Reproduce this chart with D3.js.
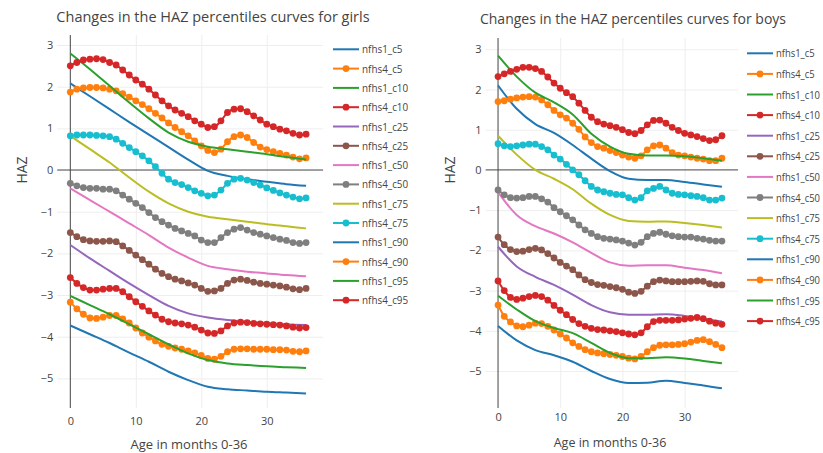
<!DOCTYPE html>
<html>
<head>
<meta charset="utf-8">
<script src="https://cdn.jsdelivr.net/npm/d3@7"></script>
<style>
    body { margin: 0; background: #fff; }
    svg { font-family: "Open Sans", sans-serif; }
    text { fill: #444; }
</style>
</head>
<body>
<div id="chart"></div>
<script>
// months for the nfhs4 series (one marker per month) and the nfhs1 lines (read every 3 months)
var months = [0, 1, 2, 3, 4, 5, 6, 7, 8, 9, 10, 11, 12, 13, 14, 15, 16, 17, 18, 19, 20,
    21, 22, 23, 24, 25, 26, 27, 28, 29, 30, 31, 32, 33, 34, 35, 36];
var months3 = [0, 3, 6, 9, 12, 15, 18, 21, 24, 27, 30, 33, 36];

var seriesNames = ["nfhs1_c5", "nfhs4_c5", "nfhs1_c10", "nfhs4_c10", "nfhs1_c25", "nfhs4_c25",
    "nfhs1_c50", "nfhs4_c50", "nfhs1_c75", "nfhs4_c75", "nfhs1_c90", "nfhs4_c90", "nfhs1_c95", "nfhs4_c95"];
var colors = ["#1f77b4", "#ff7f0e", "#2ca02c", "#d62728", "#9467bd", "#8c564b", "#e377c2",
    "#7f7f7f", "#bcbd22", "#17becf", "#1f77b4", "#ff7f0e", "#2ca02c", "#d62728"];

var xTicks = [0, 10, 20, 30];
var yTicks = [3, 2, 1, 0, -1, -2, -3, -4, -5];

// girls
var girls_nfhs1_c5 = [2.08, 1.77, 1.46, 1.15, 0.85, 0.55, 0.25, -0.02, -0.14, -0.22, -0.28, -0.34, -0.38];
var girls_nfhs4_c5 = [1.87, 1.94, 1.97, 1.98, 1.98, 1.97, 1.94, 1.90, 1.83, 1.75, 1.66, 1.57, 1.47, 1.36, 1.25, 1.13, 1.02, 0.92, 0.82, 0.70,
    0.58, 0.47, 0.42, 0.50, 0.68, 0.80, 0.84, 0.78, 0.66, 0.55, 0.49, 0.44, 0.40, 0.36, 0.31, 0.27, 0.29];
var girls_nfhs1_c10 = [2.80, 2.42, 2.02, 1.62, 1.24, 0.90, 0.68, 0.56, 0.50, 0.44, 0.38, 0.31, 0.25];
var girls_nfhs4_c10 = [2.50, 2.58, 2.64, 2.66, 2.67, 2.65, 2.58, 2.52, 2.40, 2.28, 2.16, 2.06, 1.94, 1.80, 1.66, 1.54, 1.44, 1.36, 1.28, 1.18,
    1.10, 1.02, 1.04, 1.18, 1.38, 1.46, 1.47, 1.40, 1.30, 1.20, 1.10, 1.04, 0.98, 0.94, 0.88, 0.84, 0.86];
var girls_nfhs1_c25 = [-1.80, -2.12, -2.42, -2.72, -3.00, -3.26, -3.44, -3.54, -3.60, -3.64, -3.67, -3.70, -3.72];
var girls_nfhs4_c25 = [-1.50, -1.60, -1.67, -1.70, -1.71, -1.71, -1.70, -1.72, -1.82, -1.93, -2.04, -2.15, -2.26, -2.38, -2.48, -2.56, -2.62, -2.66, -2.71, -2.76,
    -2.84, -2.91, -2.90, -2.84, -2.72, -2.64, -2.62, -2.65, -2.69, -2.72, -2.74, -2.76, -2.78, -2.81, -2.85, -2.87, -2.84];
var girls_nfhs1_c50 = [-0.44, -0.72, -1.00, -1.28, -1.56, -1.86, -2.10, -2.30, -2.38, -2.44, -2.48, -2.52, -2.55];
var girls_nfhs4_c50 = [-0.32, -0.38, -0.42, -0.44, -0.44, -0.46, -0.46, -0.50, -0.60, -0.70, -0.80, -0.90, -1.02, -1.14, -1.24, -1.32, -1.40, -1.46, -1.52, -1.58,
    -1.68, -1.74, -1.74, -1.62, -1.50, -1.42, -1.38, -1.44, -1.50, -1.54, -1.58, -1.62, -1.66, -1.69, -1.74, -1.76, -1.74];
var girls_nfhs1_c75 = [0.82, 0.50, 0.18, -0.18, -0.52, -0.80, -1.00, -1.12, -1.18, -1.24, -1.30, -1.35, -1.40];
var girls_nfhs4_c75 = [0.82, 0.84, 0.84, 0.84, 0.83, 0.82, 0.80, 0.74, 0.64, 0.54, 0.44, 0.34, 0.22, 0.08, -0.08, -0.22, -0.30, -0.35, -0.42, -0.50,
    -0.56, -0.62, -0.60, -0.48, -0.32, -0.22, -0.20, -0.24, -0.30, -0.36, -0.43, -0.49, -0.55, -0.60, -0.65, -0.69, -0.67];
var girls_nfhs1_c90 = [-3.73, -3.94, -4.15, -4.38, -4.60, -4.84, -5.04, -5.20, -5.26, -5.29, -5.32, -5.34, -5.36];
var girls_nfhs4_c90 = [-3.17, -3.33, -3.46, -3.55, -3.56, -3.53, -3.49, -3.49, -3.57, -3.67, -3.79, -3.91, -4.01, -4.10, -4.18, -4.23, -4.27, -4.30, -4.34, -4.39,
    -4.45, -4.52, -4.54, -4.47, -4.36, -4.30, -4.29, -4.29, -4.30, -4.30, -4.30, -4.31, -4.31, -4.32, -4.35, -4.36, -4.34];
var girls_nfhs1_c95 = [-3.02, -3.24, -3.46, -3.70, -3.94, -4.18, -4.40, -4.56, -4.64, -4.68, -4.71, -4.73, -4.75];
var girls_nfhs4_c95 = [-2.58, -2.72, -2.82, -2.88, -2.88, -2.86, -2.84, -2.84, -2.92, -3.04, -3.16, -3.27, -3.38, -3.48, -3.58, -3.64, -3.67, -3.69, -3.72, -3.77,
    -3.84, -3.91, -3.92, -3.86, -3.74, -3.67, -3.65, -3.66, -3.68, -3.69, -3.70, -3.71, -3.72, -3.74, -3.77, -3.79, -3.78];

// boys
var boys_nfhs1_c5 = [2.10, 1.52, 1.14, 0.92, 0.62, 0.28, -0.03, -0.22, -0.25, -0.25, -0.30, -0.36, -0.42];
var boys_nfhs4_c5 = [1.70, 1.72, 1.76, 1.79, 1.81, 1.82, 1.81, 1.74, 1.62, 1.48, 1.37, 1.29, 1.16, 1.01, 0.82, 0.68, 0.58, 0.54, 0.48, 0.43,
    0.37, 0.32, 0.29, 0.35, 0.50, 0.60, 0.62, 0.54, 0.43, 0.37, 0.35, 0.32, 0.29, 0.27, 0.23, 0.23, 0.29];
var boys_nfhs1_c10 = [2.84, 2.32, 1.92, 1.68, 1.38, 0.90, 0.58, 0.40, 0.36, 0.36, 0.34, 0.29, 0.23];
var boys_nfhs4_c10 = [2.32, 2.39, 2.45, 2.50, 2.55, 2.55, 2.52, 2.45, 2.31, 2.16, 2.03, 1.92, 1.82, 1.66, 1.48, 1.31, 1.20, 1.14, 1.10, 1.06,
    1.00, 0.93, 0.90, 0.98, 1.12, 1.23, 1.24, 1.16, 1.06, 0.98, 0.91, 0.87, 0.83, 0.78, 0.73, 0.75, 0.85];
var boys_nfhs1_c25 = [-1.91, -2.40, -2.66, -2.86, -3.10, -3.36, -3.54, -3.60, -3.60, -3.59, -3.63, -3.70, -3.77];
var boys_nfhs4_c25 = [-1.67, -1.86, -1.98, -2.03, -2.02, -1.98, -1.95, -1.99, -2.08, -2.19, -2.30, -2.39, -2.48, -2.61, -2.73, -2.80, -2.85, -2.87, -2.90, -2.93,
    -2.97, -3.04, -3.07, -3.02, -2.89, -2.78, -2.74, -2.76, -2.78, -2.78, -2.78, -2.77, -2.76, -2.77, -2.83, -2.86, -2.86];
var boys_nfhs1_c50 = [-0.55, -1.12, -1.40, -1.58, -1.80, -2.06, -2.30, -2.38, -2.37, -2.37, -2.43, -2.49, -2.57];
var boys_nfhs4_c50 = [-0.50, -0.62, -0.69, -0.70, -0.69, -0.66, -0.66, -0.72, -0.80, -0.94, -1.04, -1.14, -1.24, -1.37, -1.49, -1.58, -1.66, -1.70, -1.72, -1.74,
    -1.77, -1.82, -1.87, -1.80, -1.66, -1.58, -1.55, -1.60, -1.64, -1.66, -1.67, -1.67, -1.70, -1.72, -1.75, -1.77, -1.77];
var boys_nfhs1_c75 = [0.85, 0.38, 0.00, -0.22, -0.48, -0.84, -1.12, -1.27, -1.29, -1.28, -1.32, -1.37, -1.43];
var boys_nfhs4_c75 = [0.65, 0.60, 0.58, 0.60, 0.62, 0.64, 0.64, 0.58, 0.50, 0.37, 0.27, 0.14, 0.00, -0.12, -0.27, -0.41, -0.50, -0.54, -0.58, -0.61,
    -0.62, -0.69, -0.75, -0.69, -0.52, -0.46, -0.41, -0.50, -0.58, -0.61, -0.62, -0.64, -0.66, -0.69, -0.75, -0.75, -0.70];
var boys_nfhs1_c90 = [-3.88, -4.24, -4.48, -4.61, -4.77, -5.00, -5.20, -5.30, -5.29, -5.24, -5.30, -5.36, -5.43];
var boys_nfhs4_c90 = [-3.36, -3.64, -3.78, -3.88, -3.90, -3.86, -3.81, -3.82, -3.89, -3.98, -4.08, -4.18, -4.30, -4.39, -4.47, -4.52, -4.55, -4.57, -4.59, -4.61,
    -4.64, -4.68, -4.70, -4.64, -4.52, -4.42, -4.36, -4.35, -4.35, -4.34, -4.32, -4.28, -4.24, -4.22, -4.27, -4.34, -4.42];
var boys_nfhs1_c95 = [-3.13, -3.47, -3.76, -3.93, -4.06, -4.30, -4.55, -4.68, -4.68, -4.66, -4.69, -4.75, -4.81];
var boys_nfhs4_c95 = [-2.76, -3.00, -3.17, -3.22, -3.19, -3.15, -3.12, -3.15, -3.24, -3.37, -3.49, -3.60, -3.72, -3.82, -3.89, -3.94, -3.97, -3.98, -4.00, -4.02,
    -4.05, -4.08, -4.10, -4.05, -3.90, -3.77, -3.74, -3.74, -3.74, -3.73, -3.71, -3.69, -3.67, -3.70, -3.76, -3.81, -3.84];

var girlsSeries = [girls_nfhs1_c5, girls_nfhs4_c5, girls_nfhs1_c10, girls_nfhs4_c10, girls_nfhs1_c25, girls_nfhs4_c25, girls_nfhs1_c50,
    girls_nfhs4_c50, girls_nfhs1_c75, girls_nfhs4_c75, girls_nfhs1_c90, girls_nfhs4_c90, girls_nfhs1_c95, girls_nfhs4_c95];
var boysSeries = [boys_nfhs1_c5, boys_nfhs4_c5, boys_nfhs1_c10, boys_nfhs4_c10, boys_nfhs1_c25, boys_nfhs4_c25, boys_nfhs1_c50,
    boys_nfhs4_c50, boys_nfhs1_c75, boys_nfhs4_c75, boys_nfhs1_c90, boys_nfhs4_c90, boys_nfhs1_c95, boys_nfhs4_c95];

// STEP 1: SET UP THE CANVAS
var svgWidth = 823;
var svgHeight = 453;

var svg = d3.select("#chart")
    .append("svg")
    .attr("width", svgWidth)
    .attr("height", svgHeight);

// each panel has its own box (the two plots are slightly different sizes)
var panels = [
    {
        title: "Changes in the HAZ percentiles curves for girls",
        series: girlsSeries,
        xDomain: [-2, 38.6], xRange: [57.2, 323.1],
        yDomain: [-5.71, 3.24], yRange: [408, 35],
        titlePos: [213, 22], yTitlePos: [27, 170], xTitlePos: [189, 449],
        legendX: 333, legendY: 49.3, legendStep: 19.3,
        xTickPad: 9, titleSize: 14.5, legendSize: 11.5, legendSquash: 0.86, axisTitleSize: 14, xTitleSize: 13
    },
    {
        title: "Changes in the HAZ percentiles curves for boys",
        series: boysSeries,
        xDomain: [-2, 38.6], xRange: [485.6, 738.1],
        yDomain: [-5.92, 3.28], yRange: [408, 38],
        titlePos: [633, 24], yTitlePos: [455, 170], xTitlePos: [610, 447],
        legendX: 747, legendY: 53.3, legendStep: 20.6,
        xTickPad: 5, titleSize: 14, legendSize: 11.5, legendSquash: 0.82, axisTitleSize: 14, xTitleSize: 12.5
    }
];

panels.forEach(function(p) {
    drawPanel(p);
});

function drawPanel(p) {
    var x = d3.scaleLinear().domain(p.xDomain).range(p.xRange);
    var y = d3.scaleLinear().domain(p.yDomain).range(p.yRange);

    var left = p.xRange[0], right = p.xRange[1];
    var top = p.yRange[1], bottom = p.yRange[0];

    var g = svg.append("g");

    // gridlines
    g.append("g")
        .attr("transform", `translate(0, ${bottom})`)
        .call(d3.axisBottom(x).tickValues(xTicks.filter(d => d !== 0)).tickSize(-(bottom - top)).tickFormat(""))
        .call(a => a.select(".domain").remove())
        .selectAll("line").attr("stroke", "#eee");

    g.append("g")
        .attr("transform", `translate(${left}, 0)`)
        .call(d3.axisLeft(y).tickValues(yTicks.filter(d => d !== 0)).tickSize(-(right - left)).tickFormat(""))
        .call(a => a.select(".domain").remove())
        .selectAll("line").attr("stroke", "#eee");

    // zero lines
    g.append("line")
        .attr("x1", left).attr("x2", right)
        .attr("y1", y(0)).attr("y2", y(0))
        .attr("stroke", "#444").attr("stroke-width", 1);
    g.append("line")
        .attr("x1", x(0)).attr("x2", x(0))
        .attr("y1", top).attr("y2", bottom)
        .attr("stroke", "#444").attr("stroke-width", 1);

    // tick labels
    var xAxis = g.append("g")
        .attr("transform", `translate(0, ${bottom})`)
        .call(d3.axisBottom(x).tickValues(xTicks).tickSize(0).tickPadding(p.xTickPad).tickFormat(d3.format("d")));
    xAxis.select(".domain").remove();
    xAxis.selectAll("text").attr("font-size", 11).attr("font-family", "Open Sans").style("fill", "#444");

    var yAxis = g.append("g")
        .attr("transform", `translate(${left}, 0)`)
        .call(d3.axisLeft(y).tickValues(yTicks).tickSize(0).tickPadding(4).tickFormat(d3.format("d")));
    yAxis.select(".domain").remove();
    yAxis.selectAll("text").attr("font-size", 11).attr("font-family", "Open Sans").style("fill", "#444");

    // lines and markers
    var line = d3.line()
        .x(d => x(d[0]))
        .y(d => y(d[1]))
        .curve(d3.curveMonotoneX);

    p.series.forEach(function(vals, i) {
        var withMarkers = seriesNames[i].indexOf("nfhs4") === 0;
        var xs = withMarkers ? months : months3;
        var pts = vals.map((v, j) => [xs[j], v]);

        g.append("path")
            .datum(pts)
            .attr("fill", "none")
            .attr("stroke", colors[i])
            .attr("stroke-width", 2)
            .attr("d", line);

        if (withMarkers) {
            g.append("g")
                .selectAll("circle")
                .data(pts)
                .enter()
                .append("circle")
                .attr("cx", d => x(d[0]))
                .attr("cy", d => y(d[1]))
                .attr("r", 3.4)
                .attr("fill", colors[i]);
        }
    });

    // titles
    g.append("text")
        .attr("x", p.titlePos[0])
        .attr("y", p.titlePos[1])
        .attr("text-anchor", "middle")
        .attr("font-size", p.titleSize)
        .text(p.title);

    g.append("text")
        .attr("transform", `translate(${p.yTitlePos[0]}, ${p.yTitlePos[1]}) rotate(-90)`)
        .attr("text-anchor", "middle")
        .attr("font-size", p.axisTitleSize)
        .text("HAZ");

    g.append("text")
        .attr("x", p.xTitlePos[0])
        .attr("y", p.xTitlePos[1])
        .attr("text-anchor", "middle")
        .attr("font-size", p.xTitleSize)
        .text("Age in months 0-36");

    // legend
    var legend = g.append("g")
        .selectAll("g")
        .data(seriesNames)
        .enter()
        .append("g")
        .attr("transform", (d, i) => `translate(${p.legendX}, ${p.legendY + i * p.legendStep})`);

    legend.append("line")
        .attr("x1", 0).attr("x2", 26)
        .attr("stroke", (d, i) => colors[i])
        .attr("stroke-width", 2);

    legend.filter(d => d.indexOf("nfhs4") === 0)
        .append("circle")
        .attr("cx", 13)
        .attr("r", 3.4)
        .attr("fill", d => colors[seriesNames.indexOf(d)]);

    // the legend labels in the picture are narrow, so squeeze them sideways
    legend.append("text")
        .attr("transform", `translate(29, 0) scale(${p.legendSquash}, 1)`)
        .attr("dy", "0.35em")
        .attr("font-size", p.legendSize)
        .text(d => d);
}
</script>
</body>
</html>
